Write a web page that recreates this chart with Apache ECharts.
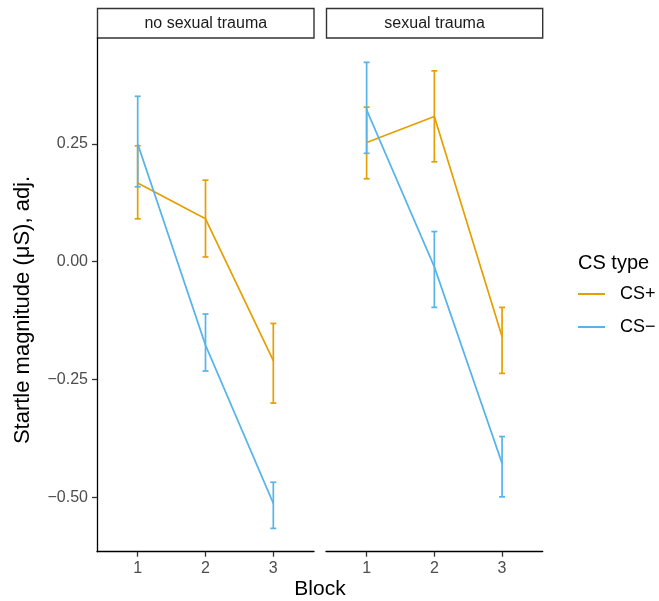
<!DOCTYPE html>
<html>
<head>
<meta charset="utf-8">
<script src="https://cdn.jsdelivr.net/npm/echarts@6/dist/echarts.min.js"></script>
<style>
  html, body { margin: 0; padding: 0; background: #fff; }
  #main { width: 659px; height: 601px; }
</style>
</head>
<body>
<div id="main"></div>
<script>
// facets, blocks and the two CS types
var panels = ['no sexual trauma', 'sexual trauma'];
var blocks = [1, 2, 3];
var yTicks = [-0.5, -0.25, 0, 0.25];

// no sexual trauma
var noTraumaPlus = [0.167, 0.091, -0.210];
var noTraumaPlusLo = [0.091, 0.010, -0.300];
var noTraumaPlusHi = [0.246, 0.173, -0.131];
var noTraumaMinus = [0.250, -0.177, -0.513];
var noTraumaMinusLo = [0.159, -0.232, -0.566];
var noTraumaMinusHi = [0.351, -0.111, -0.468];

// sexual trauma
var traumaPlus = [0.253, 0.308, -0.159];
var traumaPlusLo = [0.176, 0.212, -0.237];
var traumaPlusHi = [0.328, 0.405, -0.097];
var traumaMinus = [0.322, -0.011, -0.428];
var traumaMinusLo = [0.230, -0.097, -0.499];
var traumaMinusHi = [0.423, 0.064, -0.371];

var colPlus = '#E69F00';
var colMinus = '#56B4E9';
var font = '"Liberation Sans", Arial, Helvetica, sans-serif';

function pts(vals) {
  return blocks.map(function (b, i) { return [b, vals[i]]; });
}
function bars(lo, hi) {
  return blocks.map(function (b, i) { return [b, lo[i], hi[i]]; });
}

function lineSeries(name, idx, vals, color) {
  return {
    name: name, type: 'line', xAxisIndex: idx, yAxisIndex: idx,
    data: pts(vals), showSymbol: false, animation: false,
    lineStyle: { color: color, width: 1.7 }, itemStyle: { color: color }
  };
}

function errSeries(name, idx, lo, hi, color) {
  return {
    name: name, type: 'custom', xAxisIndex: idx, yAxisIndex: idx,
    data: bars(lo, hi), encode: { x: 0, y: [1, 2] }, animation: false,
    renderItem: function (params, api) {
      var x = api.value(0);
      var top = api.coord([x, api.value(2)]);
      var bot = api.coord([x, api.value(1)]);
      var w = 3;
      var st = { stroke: color, lineWidth: 1.7 };
      return {
        type: 'group',
        children: [
          { type: 'line', shape: { x1: top[0], y1: top[1], x2: bot[0], y2: bot[1] }, style: st },
          { type: 'line', shape: { x1: top[0] - w, y1: top[1], x2: top[0] + w, y2: top[1] }, style: st },
          { type: 'line', shape: { x1: bot[0] - w, y1: bot[1], x2: bot[0] + w, y2: bot[1] }, style: st }
        ]
      };
    }
  };
}

function xAxis(idx) {
  return {
    type: 'value', gridIndex: idx, min: 0.4, max: 3.6,
    splitLine: { show: false },
    axisLine: { onZero: false, lineStyle: { color: '#000', width: 1.3 } },
    axisTick: { customValues: blocks, length: 5, lineStyle: { color: '#333', width: 1.3 } },
    axisLabel: { customValues: blocks, margin: 9, color: '#4d4d4d', fontSize: 16, fontFamily: font }
  };
}

function yAxis(idx) {
  var show = idx === 0;
  return {
    type: 'value', gridIndex: idx, min: -0.6154, max: 0.4747,
    splitLine: { show: false },
    axisLine: { show: show, onZero: false, lineStyle: { color: '#000', width: 1.3 } },
    axisTick: { show: show, customValues: yTicks, length: 5, lineStyle: { color: '#333', width: 1.3 } },
    axisLabel: {
      show: show, customValues: yTicks, margin: 9, color: '#4d4d4d', fontSize: 16, fontFamily: font,
      formatter: function (v) { return (v < 0 ? '\u2212' : '') + Math.abs(v).toFixed(2); }
    }
  };
}

function strip(x, w, label) {
  return {
    type: 'group',
    children: [
      { type: 'rect', shape: { x: x, y: 8.5, width: w, height: 29.5 },
        style: { fill: '#fff', stroke: '#333', lineWidth: 1.4 } },
      { type: 'text', x: x + w / 2, y: 23.5,
        style: { text: label, fill: '#1a1a1a', fontSize: 16, fontFamily: font, align: 'center', verticalAlign: 'middle' } }
    ]
  };
}

var chart = echarts.init(document.getElementById('main'), null, { renderer: 'canvas' });

var option = {
  backgroundColor: '#fff',
  animation: false,
  grid: [
    { left: 97, top: 38, width: 217, height: 513.7 },
    { left: 326, top: 38, width: 216.7, height: 513.7 }
  ],
  xAxis: [xAxis(0), xAxis(1)],
  yAxis: [yAxis(0), yAxis(1)],
  legend: {
    data: ['CS+', 'CS\u2212'],
    orient: 'vertical', left: 578, top: 285, padding: 0, itemGap: 15,
    icon: 'rect', itemWidth: 27, itemHeight: 2,
    selectedMode: false,
    textStyle: { fontSize: 18, color: '#000', fontFamily: font, padding: [0, 0, 0, 10] }
  },
  graphic: [
    strip(97.5, 216.5, panels[0]),
    strip(326.5, 216.2, panels[1]),
    { type: 'text', x: 578, y: 263,
      style: { text: 'CS type', fill: '#000', fontSize: 20, fontFamily: font, verticalAlign: 'middle' } },
    { type: 'text', x: 320, y: 589,
      style: { text: 'Block', fill: '#000', fontSize: 21, fontFamily: font, align: 'center', verticalAlign: 'middle' } },
    { type: 'text', x: 23, y: 310, rotation: Math.PI / 2,
      style: { text: 'Startle magnitude (\u03bcS), adj.', fill: '#000', fontSize: 22, fontFamily: font, align: 'center', verticalAlign: 'middle' } }
  ],
  series: [
    lineSeries('CS+', 0, noTraumaPlus, colPlus),
    lineSeries('CS\u2212', 0, noTraumaMinus, colMinus),
    errSeries('CS+', 0, noTraumaPlusLo, noTraumaPlusHi, colPlus),
    errSeries('CS\u2212', 0, noTraumaMinusLo, noTraumaMinusHi, colMinus),
    lineSeries('CS+', 1, traumaPlus, colPlus),
    lineSeries('CS\u2212', 1, traumaMinus, colMinus),
    errSeries('CS+', 1, traumaPlusLo, traumaPlusHi, colPlus),
    errSeries('CS\u2212', 1, traumaMinusLo, traumaMinusHi, colMinus)
  ]
};

chart.setOption(option);
</script>
</body>
</html>
